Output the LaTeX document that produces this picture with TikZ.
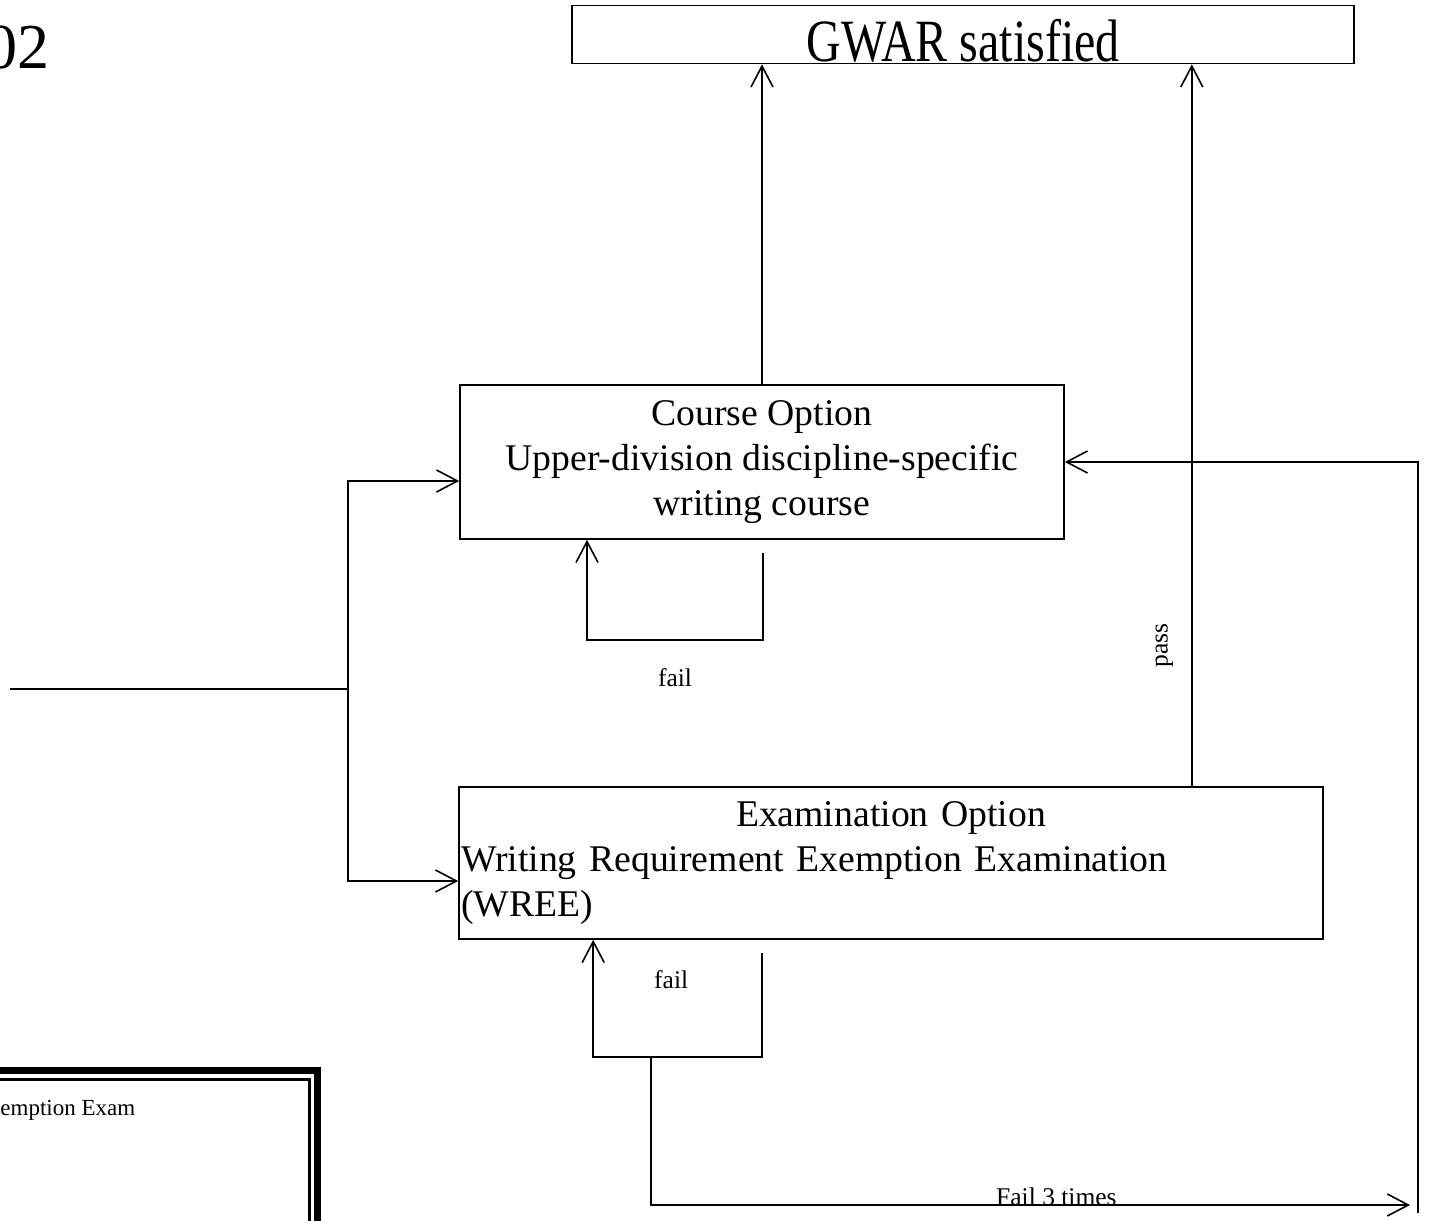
\documentclass[tikz,border=0pt]{standalone}
\usepackage{fontspec}
\setmainfont{Liberation Serif}
\newfontfamily\narrowserif[FakeStretch=0.8]{Liberation Serif}
\usetikzlibrary{arrows.meta,calc,positioning}
\begin{document}
\begin{tikzpicture}
			[x=1pt,y=-1pt,line width=1.6pt,
			box/.style={draw,rectangle,inner sep=2pt,font=\fontsize{37.7}{45}\selectfont},
			lbl/.style={inner sep=0pt,font=\fontsize{25.5}{30}\selectfont},
			>={Straight Barb[length=21pt,width=22pt]}]
			\clip (0,0) rectangle (1433,1221);
			\node[anchor=base east,inner sep=0pt,font=\fontsize{64}{70}\selectfont,name=year] at (50,68) {02};
			\node[draw,minimum width=782pt,minimum height=58pt,name=gwar] at (963,34.5) {};
			\node[anchor=base,inner sep=0pt,font=\narrowserif\fontsize{60}{66}\selectfont,name=gwartext] at ($(gwar.south)+(0,-3)$) {GWAR satisfied};
			\node[box,minimum width=604pt,minimum height=154pt,align=center,name=course] at (762,462) {Course Option\\Upper-division discipline-specific\\writing course};
			\node[box,minimum height=152pt,text width=860pt,align=left,name=exam] at (891,863) {\makebox[860pt]{Examination Option}\\Writing Requirement Exemption Examination\\(WREE)};
			% legend box, cut at the page edge
			\draw[line width=7pt] (-20,1070.5) -| (317.5,1240);
			\draw[line width=3pt] (-20,1079.5) -| (309.5,1240);
			\node[lbl,font=\fontsize{23}{28}\selectfont,anchor=base east,name=legend] at (136,1115) {emption Exam};
			% into both options
			\coordinate (entry) at (10,689);
			\coordinate (split) at (348,689);
			\draw (entry) -- (split);
			\draw[->] (split) |- ($(course.west)+(0,19)$);
			\draw[->] (split) |- ($(exam.west)+(0,18)$);
			% up to GWAR
			\draw[->] (course.north) -- (course.north |- gwar.south);
			\coordinate (passfoot) at ($(exam.north east)+(-132,0)$);
			\draw[->] (passfoot) -- (passfoot |- gwar.south)
				node[lbl,pos=0.195,rotate=90,anchor=south,inner ysep=18pt]{pass};
			% fail loops
			\draw[->] ($(course.south)+(1,13)$) -- ++(0,87) -| ($(course.south)+(-175,0)$)
				node[lbl,pos=0.25,below=28pt]{fail};
			\coordinate (loopcorner) at ($(exam.south west)+(304,117)$);
			\draw[->] ($(exam.south west)+(304,13)$) -- (loopcorner) -| ($(exam.south west)+(135,0)$);
			\node[lbl,name=efail] at ($(exam.south west)+(213,40)$) {fail};
			% fail 3 times, back to the course
			\coordinate (retfoot) at (1418,1213);
			\draw[->] ($(loopcorner)+(-111,0)$) |- ($(retfoot)+(-8,-8)$)
				node[lbl,pos=0.767,anchor=base]{Fail 3 times};
			\draw[->] (retfoot) |- (course.east);
		\end{tikzpicture}
\end{document}
